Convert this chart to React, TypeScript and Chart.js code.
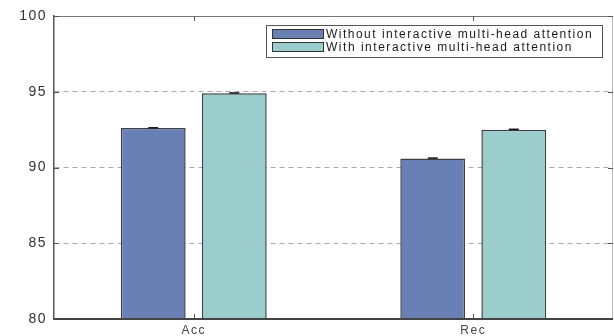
import React, { useEffect, useRef } from "react";
import { Chart, registerables } from "chart.js";

Chart.register(...registerables);

const categories = ["Acc", "Rec"];
const seriesLabels = [
  "Without interactive multi-head attention",
  "With interactive multi-head attention",
];
const withoutValues = [92.6, 90.6];
const withValues = [94.9, 92.5];
const withoutErrors = [0.02, 0.02];
const withErrors = [0.02, 0.02];
const yTicks = [80, 85, 90, 95, 100];

const BLUE = "#6880b4";
const TEAL = "#9bcdcc";
const FONT = "'Liberation Sans', Arial, sans-serif";

const spacingPlugin = {
  id: "spacing",
  beforeDraw(chart: any) {
    chart.ctx.letterSpacing = "1.5px";
  },
  beforeDatasetsDraw(chart: any) {
    chart.ctx.letterSpacing = "0px";
  },
};

const decorPlugin = {
  id: "decor",
  afterDatasetsDraw(chart: any) {
    const ctx = chart.ctx;
    const area = chart.chartArea;
    const xs = chart.scales.x;
    const ys = chart.scales.y;
    ctx.save();
    ctx.letterSpacing = "0px";
    const errs = [withoutErrors, withErrors];
    chart.data.datasets.forEach((ds: any, di: number) => {
      const meta = chart.getDatasetMeta(di);
      meta.data.forEach((bar: any, i: number) => {
        const v = ds.data[i];
        const e = errs[di][i];
        const yTop = ys.getPixelForValue(v + e);
        ctx.strokeStyle = "#111";
        ctx.lineWidth = 1.5;
        ctx.beginPath();
        ctx.moveTo(bar.x - 5, yTop);
        ctx.lineTo(bar.x + 5, yTop);
        ctx.stroke();
      });
    });
    ctx.strokeStyle = "#777";
    ctx.lineWidth = 1;
    ctx.beginPath();
    ctx.moveTo(area.left, area.top + 0.5);
    ctx.lineTo(area.right, area.top + 0.5);
    ctx.stroke();
    ctx.strokeStyle = "#bbb";
    ctx.beginPath();
    ctx.moveTo(area.right - 0.5, area.top);
    ctx.lineTo(area.right - 0.5, area.bottom);
    ctx.stroke();
    ctx.strokeStyle = "#555";
    ctx.lineWidth = 1;
    ctx.beginPath();
    yTicks.forEach((t) => {
      const y = Math.round(ys.getPixelForValue(t)) + 0.5;
      ctx.moveTo(area.left, y);
      ctx.lineTo(area.left + 5, y);
      ctx.moveTo(area.right, y);
      ctx.lineTo(area.right - 5, y);
    });
    categories.forEach((_, i) => {
      const x = Math.round(xs.getPixelForValue(i)) + 0.5;
      ctx.moveTo(x, area.bottom);
      ctx.lineTo(x, area.bottom - 5);
      ctx.moveTo(x, area.top);
      ctx.lineTo(x, area.top + 5);
    });
    ctx.stroke();
    ctx.strokeStyle = "#444";
    ctx.lineWidth = 2;
    ctx.beginPath();
    ctx.moveTo(area.left, area.bottom);
    ctx.lineTo(area.right, area.bottom);
    ctx.stroke();
    const lx = 266.5, ly = 25.5, lw = 336, lh = 32;
    ctx.fillStyle = "#fff";
    ctx.fillRect(lx, ly, lw, lh);
    ctx.strokeStyle = "#555";
    ctx.lineWidth = 1;
    ctx.strokeRect(lx, ly, lw, lh);
    ctx.font = "12px " + FONT;
    ctx.textBaseline = "middle";
    ctx.textAlign = "left";
    chart.data.datasets.forEach((ds: any, di: number) => {
      const rowY = 34 + di * 13;
      ctx.fillStyle = ds.backgroundColor;
      ctx.fillRect(272, rowY - 5, 52, 10);
      ctx.strokeStyle = "#333";
      ctx.lineWidth = 1;
      ctx.strokeRect(272.5, rowY - 4.5, 51, 9);
      ctx.fillStyle = "#1a1a1a";
      const label = ds.label;
      ctx.letterSpacing = "0px";
      const w = ctx.measureText(label).width;
      const target = di === 0 ? 267 : 247;
      const sp = (target - w) / label.length;
      ctx.letterSpacing = sp.toFixed(2) + "px";
      ctx.fillText(label, 326, rowY + 0.5);
      ctx.letterSpacing = "0px";
    });
    ctx.restore();
  },
};

export default function App() {
  const ref = useRef<HTMLCanvasElement | null>(null);
  useEffect(() => {
    if (!ref.current) return;
    const chart = new Chart(ref.current, {
      type: "bar",
      data: {
        labels: categories,
        datasets: [
          {
            label: seriesLabels[0],
            data: withoutValues,
            backgroundColor: BLUE,
            borderColor: "#3a3f4a",
            borderWidth: 1.5,
            categoryPercentage: 0.58,
            barPercentage: 0.8,
          },
          {
            label: seriesLabels[1],
            data: withValues,
            backgroundColor: TEAL,
            borderColor: "#3a3f4a",
            borderWidth: 1.5,
            categoryPercentage: 0.58,
            barPercentage: 0.8,
          },
        ],
      },
      options: {
        animation: false,
        responsive: false,
        maintainAspectRatio: false,
        layout: { padding: { top: 16, right: 1, left: 0, bottom: 0 } },
        plugins: {
          legend: { display: false },
          tooltip: { enabled: false },
        },
        scales: {
          x: {
            grid: { display: false, drawTicks: false },
            border: { display: false },
            ticks: {
              font: { family: FONT, size: 12 },
              color: "#444",
              padding: 4,
            },
            afterFit: (s: any) => {
              s.height = 17;
            },
          },
          y: {
            min: 80,
            max: 100,
            afterBuildTicks: (s: any) => {
              s.ticks = yTicks.map((v) => ({ value: v }));
            },
            grid: {
              drawTicks: false,
              color: (c: any) =>
                c.tick && (c.tick.value === 80 || c.tick.value === 100)
                  ? "rgba(0,0,0,0)"
                  : "#aaa",
              lineWidth: 1,
            },
            border: { display: true, color: "#555", width: 1.5, dash: [5, 4] },
            ticks: {
              font: { family: FONT, size: 14 },
              color: "#333",
              padding: 7,
            },
            afterFit: (s: any) => {
              s.width = 54;
            },
          },
        },
      } as any,
      plugins: [spacingPlugin, decorPlugin],
    });
    return () => chart.destroy();
  }, []);
  return (
    <div style={{ position: "absolute", left: 0, top: 0, width: 614, height: 336, background: "#fff" }}>
      <canvas ref={ref} width={614} height={336} style={{ display: "block" }} />
    </div>
  );
}
